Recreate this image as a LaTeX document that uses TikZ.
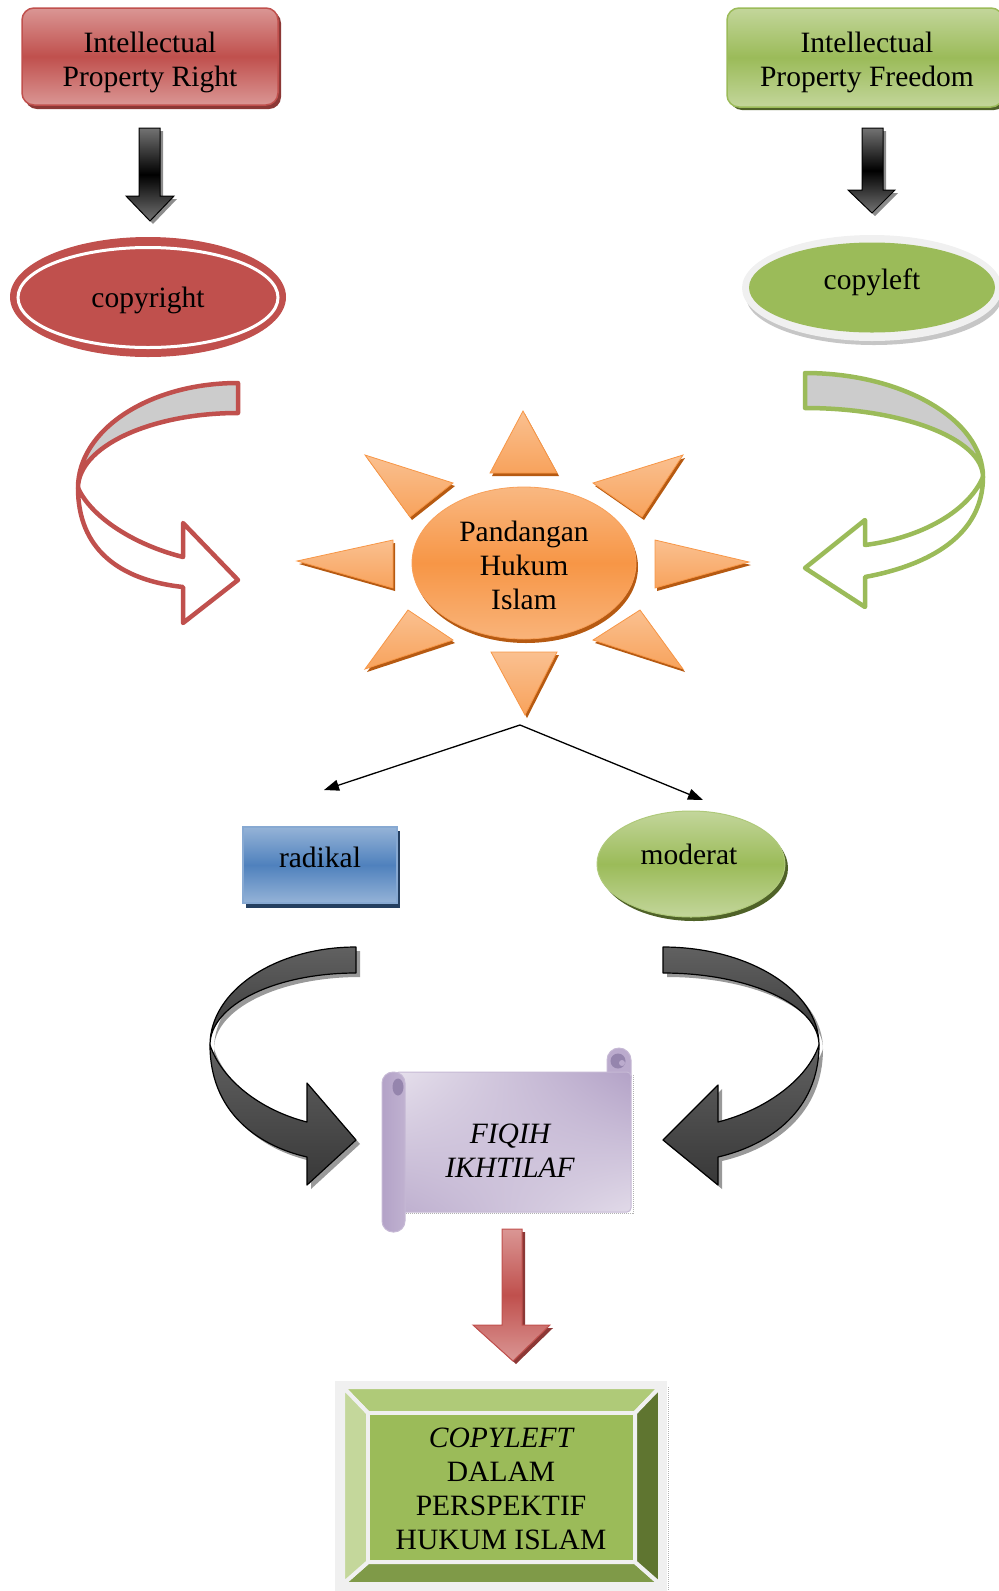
\documentclass[tikz,border=0pt]{standalone}
\usepackage{fontspec}
\setmainfont{Liberation Serif}
\usetikzlibrary{arrows.meta,shadings}
\definecolor{redA}{HTML}{C0504D}
\definecolor{redL}{HTML}{DA9694}
\definecolor{redD}{HTML}{8C3836}
\definecolor{grnA}{HTML}{9BBB59}
\definecolor{grnL}{HTML}{C3D69B}
\definecolor{grnD}{HTML}{4F6228}
\definecolor{bluA}{HTML}{4F81BD}
\definecolor{bluL}{HTML}{95B3D7}
\definecolor{bluD}{HTML}{243F60}
\definecolor{orA}{HTML}{F79646}
\definecolor{orL}{HTML}{FAC090}
\definecolor{orD}{HTML}{B65A12}
\definecolor{purA}{HTML}{B3A2C7}
\definecolor{purL}{HTML}{E6E0EC}
\definecolor{purD}{HTML}{8064A2}
\definecolor{purC}{HTML}{9585AD}
\definecolor{frameC}{HTML}{F0F0F0}
\definecolor{bevT}{HTML}{AFCA78}
\definecolor{bevL}{HTML}{C4D79B}
\definecolor{bevR}{HTML}{5F7530}
\definecolor{bevB}{HTML}{7F9A48}
\begin{document}
\begin{tikzpicture}[x=1pt,y=-1pt,
  txt/.style={font=\fontsize{29.5}{34}\selectfont, align=center, inner sep=0pt, text=black},
  blackarrow/.style={top color=black!55, bottom color=black!55, middle color=black, draw=black, line width=1pt},
  blackshadow/.style={fill=black!45},
  ray/.style={top color=orL, bottom color=orA!70!orL, draw=orA, line width=0.8pt},
  rayshadow/.style={fill=orD},
  curvedblack/.style={top color=black!62, bottom color=black!78, draw=black, line width=1.2pt},
  thin/.style={line width=1.3pt, -{Triangle[length=15pt,width=11pt]}}]
\useasboundingbox (0,0) rectangle (999,1591);
\clip (0,0) rectangle (999,1591);

% ---------- top boxes ----------
\fill[redD, rounded corners=12pt] (25,11) rectangle (281,109);
\shade[top color=redL, bottom color=redL, middle color=redA, draw=redA, line width=1.5pt, rounded corners=12pt] (22,8) rectangle (278,105);
\node[txt] (ipr) at (150,62) {Intellectual\\Property Right};

\fill[grnD, rounded corners=12pt] (730,11) rectangle (1006,110);
\shade[top color=grnL, bottom color=grnL, middle color=grnA, draw=grnA, line width=1.5pt, rounded corners=12pt] (727,8) rectangle (1003,107);
\node[txt] (ipf) at (867,62) {Intellectual\\Property Freedom};

% ---------- black down arrows ----------
\fill[blackshadow, shift={(3,3)}] (139,128) -- (160,128) -- (160,196) -- (174,196) -- (150,221) -- (126,196) -- (139,196) -- cycle;
\shade[blackarrow] (139,128) -- (160,128) -- (160,196) -- (174,196) -- (150,221) -- (126,196) -- (139,196) -- cycle;
\fill[blackshadow, shift={(3,3)}] (862,128) -- (883,128) -- (883,190) -- (895,190) -- (872,213) -- (848,190) -- (862,190) -- cycle;
\shade[blackarrow] (862,128) -- (883,128) -- (883,190) -- (895,190) -- (872,213) -- (848,190) -- (862,190) -- cycle;

% ---------- copyright / copyleft ----------
\fill[redA] (148,297) ellipse [x radius=138pt, y radius=60pt];
\draw[white, line width=3pt] (148,297.5) ellipse [x radius=130pt, y radius=50pt];
\node[txt] (cr) at (148,300) {copyright};

\fill[gray!45] (874,296) ellipse [x radius=128pt, y radius=49pt];
\fill[frameC] (872,288) ellipse [x radius=130pt, y radius=53pt];
\fill[grnA] (872,287.5) ellipse [x radius=123pt, y radius=45pt];
\node[txt] (cl) at (872,282) {copyleft};

% ---------- red curved arrow ----------
\filldraw[fill=white, draw=redA, line width=4.5pt, line join=round]
  (78,488) .. controls (92,518) and (135,545) .. (183,557) -- (183,523) -- (238,580) -- (183,623) -- (183,587)
  .. controls (118,580) and (78,548) .. (78,488) -- cycle;
\filldraw[fill=gray!40, draw=redA, line width=4.5pt, line join=round]
  (238,383) .. controls (149,383) and (78,430) .. (78,488) .. controls (78,447) and (150,413) .. (238,413) -- cycle;

% ---------- green curved arrow ----------
\filldraw[fill=white, draw=grnA, line width=4.5pt, line join=round]
  (983,477) .. controls (983,535) and (930,565) .. (865,577) -- (865,607) -- (805,568) -- (865,520) -- (865,545)
  .. controls (920,538) and (968,512) .. (983,477) -- cycle;
\filldraw[fill=gray!40, draw=grnA, line width=4.5pt, line join=round]
  (805,373) .. controls (903,373) and (983,420) .. (983,477) .. controls (983,439) and (903,408) .. (805,408) -- cycle;

% ---------- sun ----------
\fill[rayshadow, shift={(2,3)}] (523,411) -- (557,473) -- (490,473) -- cycle;
\shade[ray] (523,411) -- (557,473) -- (490,473) -- cycle;
\fill[rayshadow, shift={(2,3)}] (491,652) -- (557,652) -- (525,715) -- cycle;
\shade[ray] (491,652) -- (557,652) -- (525,715) -- cycle;
\fill[rayshadow, shift={(2,3)}] (297,561) -- (393,540) -- (393,588) -- cycle;
\shade[ray] (297,561) -- (393,540) -- (393,588) -- cycle;
\fill[rayshadow, shift={(2,3)}] (655,540) -- (749,562) -- (655,588) -- cycle;
\shade[ray] (655,540) -- (749,562) -- (655,588) -- cycle;
\fill[rayshadow, shift={(2,3)}] (365,455) -- (453,483) -- (410,517) -- cycle;
\shade[ray] (365,455) -- (453,483) -- (410,517) -- cycle;
\fill[rayshadow, shift={(2,3)}] (683,455) -- (593,483) -- (642,517) -- cycle;
\shade[ray] (683,455) -- (593,483) -- (642,517) -- cycle;
\fill[rayshadow, shift={(2,3)}] (365,669) -- (408,610) -- (453,640) -- cycle;
\shade[ray] (365,669) -- (408,610) -- (453,640) -- cycle;
\fill[rayshadow, shift={(2,3)}] (683,669) -- (640,610) -- (593,640) -- cycle;
\shade[ray] (683,669) -- (640,610) -- (593,640) -- cycle;
\fill[orD] (526,567) ellipse [x radius=112pt, y radius=76pt];
\shade[top color=orL!80!orA, bottom color=orL!70!orA, middle color=orA, draw=orA!90!white, line width=0.8pt] (524,563) ellipse [x radius=112pt, y radius=76pt];
\node[txt] (phi) at (524,565) {Pandangan\\Hukum\\Islam};

% ---------- thin arrows ----------
\coordinate (apex) at (520,725);
\coordinate (ltip) at (324,790);
\coordinate (rtip) at (703,800);
\draw[thin] (apex) -- (ltip);
\draw[thin] (apex) -- (rtip);

% ---------- radikal / moderat ----------
\fill[bluD] (246,831) rectangle (400,908);
\shade[top color=bluL, bottom color=bluL, middle color=bluA, draw=bluL!80!bluA, line width=1.5pt] (243,827) rectangle (397,903);
\node[txt] (rad) at (320,857) {radikal};

\fill[grnD] (694,868) ellipse [x radius=94pt, y radius=53pt];
\shade[top color=grnL, bottom color=grnL, middle color=grnA, draw=grnA!80!white, line width=1pt] (691,864) ellipse [x radius=94pt, y radius=53pt];
\node[txt] (mod) at (689,854) {moderat};

% ---------- black curved arrows ----------
\begin{scope}[shift={(4,4)}]
\fill[black!40] (210,1045) .. controls (210,1110) and (255,1145) .. (307,1157) -- (307,1185) -- (356,1140) -- (307,1083) -- (307,1122) .. controls (260,1110) and (222,1080) .. (210,1045) -- cycle;
\fill[black!40] (356,947) .. controls (275,947) and (210,991) .. (210,1045) .. controls (210,1005) and (275,973) .. (356,973) -- cycle;
\fill[black!40] (819,1045) .. controls (819,1110) and (770,1145) .. (718,1157) -- (718,1185) -- (663,1140) -- (718,1085) -- (718,1122) .. controls (765,1110) and (807,1080) .. (819,1045) -- cycle;
\fill[black!40] (663,947) .. controls (749,947) and (819,991) .. (819,1045) .. controls (819,1005) and (749,973) .. (663,973) -- cycle;
\end{scope}
\shade[curvedblack, line join=round] (210,1045) .. controls (210,1110) and (255,1145) .. (307,1157) -- (307,1185) -- (356,1140) -- (307,1083) -- (307,1122) .. controls (260,1110) and (222,1080) .. (210,1045) -- cycle;
\shade[curvedblack, line join=round] (356,947) .. controls (275,947) and (210,991) .. (210,1045) .. controls (210,1005) and (275,973) .. (356,973) -- cycle;
\shade[curvedblack, line join=round] (819,1045) .. controls (819,1110) and (770,1145) .. (718,1157) -- (718,1185) -- (663,1140) -- (718,1085) -- (718,1122) .. controls (765,1110) and (807,1080) .. (819,1045) -- cycle;
\shade[curvedblack, line join=round] (663,947) .. controls (749,947) and (819,991) .. (819,1045) .. controls (819,1005) and (749,973) .. (663,973) -- cycle;

% ---------- scroll ----------
\draw[gray!60, densely dotted, line width=1pt] (406,1213) -- (633,1213) -- (633,1075);
\filldraw[fill=purA!90!white, draw=purD!45, line width=1pt, rounded corners=12pt] (607,1048) rectangle (631,1090);
\shade[upper left=purL, upper right=purA, lower left=purA!80!purL, lower right=purL!90!purA, draw=purD!45, line width=1pt, rounded corners=4pt] (395,1072) rectangle (631,1212);
\fill[purC] (618,1061) circle (7.5pt);
\fill[purA!90!white] (622,1063) circle (3pt);
\shade[left color=purA, right color=purA!75!purL, draw=purD!45, line width=1pt, rounded corners=11pt] (382,1072) rectangle (405,1232);
\fill[purC] (398,1087) ellipse [x radius=5.5pt, y radius=8.5pt];
\node[txt, font=\fontsize{29.5}{34}\selectfont\itshape] (fiq) at (510,1151) {FIQIH\\IKHTILAF};

% ---------- red down arrow ----------
\fill[redD, shift={(3,3)}] (502,1229) -- (522,1229) -- (522,1325) -- (550,1325) -- (513,1361) -- (473,1325) -- (502,1325) -- cycle;
\shade[top color=redL, bottom color=redL, middle color=redA, draw=redA, line width=1pt] (502,1229) -- (522,1229) -- (522,1325) -- (550,1325) -- (513,1361) -- (473,1325) -- (502,1325) -- cycle;

% ---------- bevel box ----------
\fill[frameC] (335,1381) rectangle (667,1595);
\draw[gray!60, densely dotted, line width=1pt] (668,1387) -- (668,1591);
\begin{scope}[draw=frameC, line width=4pt, line join=miter]
\filldraw[fill=bevT] (343,1387) -- (660,1387) -- (635,1413) -- (368,1413) -- cycle;
\filldraw[fill=bevB] (343,1584) -- (660,1584) -- (635,1562) -- (368,1562) -- cycle;
\filldraw[fill=bevL] (343,1387) -- (368,1413) -- (368,1562) -- (343,1584) -- cycle;
\filldraw[fill=bevR] (660,1387) -- (635,1413) -- (635,1562) -- (660,1584) -- cycle;
\filldraw[fill=grnA] (368,1413) rectangle (635,1562);
\end{scope}
\node[txt] (cdp) at (501,1489) {{\itshape COPYLEFT}\\DALAM\\PERSPEKTIF\\HUKUM ISLAM};
\end{tikzpicture}
\end{document}
